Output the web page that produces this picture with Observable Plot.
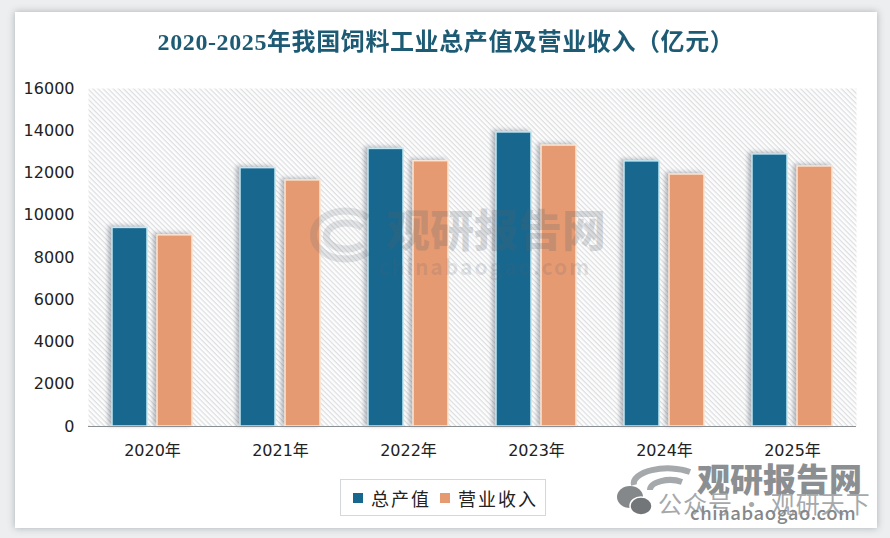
<!DOCTYPE html>
<html lang="zh">
<head>
<meta charset="utf-8">
<script src="https://cdn.jsdelivr.net/npm/d3@7"></script>
<script src="https://cdn.jsdelivr.net/npm/@observablehq/plot@0.6"></script>
<style>
html,body{margin:0;padding:0;background:#eceeef;}
#page{position:relative;width:890px;height:538px;overflow:hidden;font-family:"DejaVu Sans","Noto Sans CJK SC",sans-serif;}
#card{position:absolute;left:15px;top:12px;width:862px;height:516px;background:#fff;box-shadow:0 0 7px rgba(90,100,110,.45);}
#plot{position:absolute;left:0;top:0;}
#title{position:absolute;left:0;width:892px;top:22px;text-align:center;font:bold 24px "Liberation Serif","Noto Sans CJK SC",serif;color:#1d5a74;letter-spacing:.6px;white-space:nowrap;filter:blur(.3px);}
#legend{position:absolute;left:340px;top:479px;width:206px;height:37px;box-sizing:border-box;border:1px solid #d5d8da;background:#fff;display:flex;align-items:center;justify-content:flex-start;padding-left:12px;gap:9px;font-size:18px;color:#222;font-family:"Noto Sans CJK SC",sans-serif;letter-spacing:2px;}
#legend span{display:flex;align-items:center;gap:8px;}
#legend i{display:block;width:10px;height:10px;}
.wm{position:absolute;white-space:nowrap;font-family:"Noto Sans CJK SC",sans-serif;}
.deco{position:absolute;left:0;top:0;pointer-events:none;}
.bars rect{filter:drop-shadow(-3px -1px 2px rgba(50,60,80,.35));}
svg text{fill:#222;}
</style>
</head>
<body>
<svg width="0" height="0" style="position:absolute"><defs>
<pattern id="hatch" width="3.6" height="3.6" patternUnits="userSpaceOnUse" patternTransform="rotate(45)">
<rect width="3.6" height="3.6" fill="#fdfdfd"/><rect width="3.6" height="1.2" fill="#dcdee0"/>
</pattern></defs></svg>
<div id="page">
<div id="card"></div>
<div id="plot"></div>
<div id="title">2020-2025年我国饲料工业总产值及营业收入（亿元）</div>
<svg class="deco" width="890" height="538" fill="none">
  <g stroke="rgba(90,100,110,.16)" stroke-width="7">
    <path d="M368 218 A32 24 0 1 0 368 252"/>
    <path d="M362 228 A20 13 0 1 0 362 244"/>
  </g>
  <g stroke="#a6a9ab" stroke-width="6">
    <path d="M690 472 A34 15 0 0 0 634 485"/>
    <path d="M682 482 A20 10 0 0 0 650 490"/>
  </g>
  <ellipse cx="630" cy="497" rx="13" ry="11" fill="#85888b"/>
  <ellipse cx="641" cy="506" rx="11" ry="9" fill="#737679" stroke="#fff" stroke-width="1.5"/>
</svg>
<div class="wm" style="left:386px;top:196px;font-size:44px;font-weight:900;color:rgba(90,100,110,.22);">观研报告网</div>
<div class="wm" style="left:378px;top:251px;font-size:21px;font-weight:700;color:rgba(90,100,110,.16);letter-spacing:2px">chinabaogao.com</div>
<div class="wm" style="left:697px;top:454px;font-size:33px;font-weight:900;color:#8c8f92;">观研报告网</div>
<div class="wm" style="left:658px;top:485px;font-size:24px;color:#a6a8aa;letter-spacing:1px">公众号 · 观研天下</div>
<div class="wm" style="left:690px;top:499px;font-size:18.5px;font-weight:500;color:#85888b;letter-spacing:.6px">chinabaogao.com</div>
<div id="legend"></div>
</div>
<script>
const years = ["2020","2021","2022","2023","2024","2025"];
const seriesNames = ["总产值","营业收入"];
const output = [9400,12230,13140,13920,12550,12880];
const revenue = [9050,11650,12560,13300,11930,12310];
const colors = ["#17678f","#e59a72"];
const edges = ["#bfe8f4","#fbe6d3"];
const yTicks = [0,2000,4000,6000,8000,10000,12000,14000,16000];

const rows = years.flatMap((y,i)=>[
  {year:y,series:seriesNames[0],value:output[i]},
  {year:y,series:seriesNames[1],value:revenue[i]}
]);

const chart = Plot.plot({
  width:890,height:538,
  marginLeft:87,marginRight:33,marginTop:88,marginBottom:112,
  style:{background:"transparent",fontFamily:'"DejaVu Sans","Noto Sans CJK SC",sans-serif',fontSize:"16px",color:"#222"},
  fx:{domain:years,padding:0,label:null},
  x:{domain:seriesNames,paddingInner:0.222,paddingOuter:0.533,axis:null},
  y:{domain:[0,16000],label:null},
  color:{domain:seriesNames,range:colors},
  marks:[
    Plot.frame({facet:"super",fill:"url(#hatch)",stroke:null}),
    Plot.axisY({ticks:yTicks,tickSize:0,tickPadding:14,label:null,tickFormat:d=>String(d),fontSize:16}),
    Plot.axisFx({anchor:"bottom",tickSize:0,tickPadding:18,label:null,tickFormat:d=>d+"年",fontSize:16}),
    Plot.barY(rows,{fx:"year",x:"series",y:"value",fill:"series",
      stroke:d=>edges[seriesNames.indexOf(d.series)],strokeWidth:1.5,className:"bars"}),
    Plot.ruleY([0],{stroke:"#8a8f94",strokeWidth:1})
  ]
});
document.getElementById("plot").append(chart);

const legend = document.getElementById("legend");
seriesNames.forEach((n,i)=>{
  const s=document.createElement("span");
  const b=document.createElement("i");
  b.style.background=colors[i];
  s.append(b,n);
  legend.append(s);
});
</script>
</body>
</html>
